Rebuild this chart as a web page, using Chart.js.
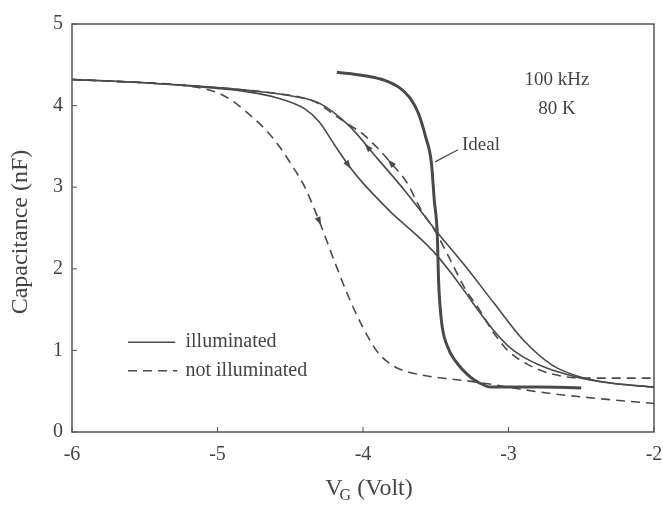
<!DOCTYPE html>
<html>
<head>
<meta charset="utf-8">
<script src="https://cdn.jsdelivr.net/npm/chart.js@4.4.0/dist/chart.umd.min.js"></script>
<style>
  html, body { margin: 0; padding: 0; background: #fff; }
</style>
</head>
<body>
<canvas id="cvChart" width="663" height="509"></canvas>
<script>
// values
const xTickLabels = ['-6', '-5', '-4', '-3', '-2'];
const yTickLabels = ['0', '1', '2', '3', '4', '5'];

const illumUpX = [-6, -5.5, -5, -4.7, -4.5, -4.3, -4.1, -3.9, -3.7, -3.5, -3.3, -3.1, -2.9, -2.7, -2.5, -2.3, -2.0];
const illumUpY = [4.32, 4.28, 4.22, 4.17, 4.12, 4.03, 3.76, 3.35, 2.93, 2.47, 2.04, 1.58, 1.13, 0.82, 0.67, 0.60, 0.55];

const illumDownX = [-6, -5.5, -5, -4.8, -4.6, -4.4, -4.3, -4.2, -4.1, -4.0, -3.9, -3.8, -3.7, -3.6, -3.5, -3.4, -3.3, -3.2, -3.1, -3.0, -2.9, -2.8, -2.7, -2.5, -2.3, -2.0];
const illumDownY = [4.32, 4.28, 4.21, 4.17, 4.10, 3.96, 3.80, 3.53, 3.27, 3.05, 2.86, 2.68, 2.52, 2.36, 2.18, 1.96, 1.72, 1.47, 1.24, 1.05, 0.92, 0.83, 0.76, 0.66, 0.60, 0.55];

const darkDownX = [-6, -5.5, -5.2, -5.0, -4.9, -4.8, -4.7, -4.6, -4.5, -4.4, -4.3, -4.2, -4.1, -4.0, -3.9, -3.8, -3.7, -3.6, -3.5, -3.3, -3.1, -2.9, -2.7, -2.5, -2.2, -2.0];
const darkDownY = [4.32, 4.28, 4.24, 4.16, 4.06, 3.92, 3.76, 3.56, 3.30, 3.00, 2.58, 2.11, 1.66, 1.28, 0.98, 0.82, 0.74, 0.70, 0.67, 0.63, 0.58, 0.52, 0.47, 0.43, 0.38, 0.35];

const darkUpX = [-6, -5.5, -5, -4.6, -4.4, -4.3, -4.2, -4.1, -4.0, -3.9, -3.8, -3.7, -3.6, -3.5, -3.4, -3.3, -3.2, -3.1, -3.0, -2.9, -2.8, -2.7, -2.5, -2.2, -2.0];
const darkUpY = [4.32, 4.28, 4.22, 4.15, 4.09, 4.02, 3.89, 3.77, 3.65, 3.48, 3.28, 3.06, 2.72, 2.45, 2.11, 1.76, 1.50, 1.21, 0.99, 0.86, 0.77, 0.71, 0.66, 0.66, 0.66];

const idealX = [-4.18, -4.0, -3.85, -3.75, -3.68, -3.62, -3.57, -3.53, -3.51, -3.49, -3.48, -3.46, -3.42, -3.36, -3.28, -3.2, -3.12, -2.8, -2.5];
const idealY = [4.41, 4.37, 4.31, 4.22, 4.10, 3.91, 3.62, 3.30, 2.84, 2.44, 1.83, 1.35, 1.05, 0.86, 0.70, 0.60, 0.55, 0.55, 0.54];

const ink = '#4a4a4a';
const serif = '"Liberation Serif", "DejaVu Serif", serif';

function pts(xs, ys) {
  return xs.map((x, i) => ({ x: x, y: ys[i] }));
}

function curve(label, xs, ys, dashed, width) {
  return {
    label: label,
    data: pts(xs, ys),
    borderColor: ink,
    borderWidth: width || 1.6,
    borderDash: dashed ? [9, 6] : [],
    pointRadius: 0,
    fill: false,
    showLine: true,
    cubicInterpolationMode: 'monotone'
  };
}

// arrow heads: dataset index, x where it sits, reverse = points toward smaller x
const arrowMarks = [
  { ds: 2, at: -4.30, reverse: false },
  { ds: 1, at: -4.10, reverse: false },
  { ds: 0, at: -3.97, reverse: true },
  { ds: 3, at: -3.81, reverse: true }
];

function arrowHead(ctx, px, py, ang) {
  const len = 9, half = 3;
  ctx.save();
  ctx.translate(px, py);
  ctx.rotate(ang);
  ctx.beginPath();
  ctx.moveTo(len / 2, 0);
  ctx.lineTo(-len / 2, -half);
  ctx.lineTo(-len / 2, half);
  ctx.closePath();
  ctx.fillStyle = ink;
  ctx.fill();
  ctx.restore();
}

const decor = {
  id: 'decor',
  afterDraw(chart) {
    const ctx = chart.ctx;
    const a = chart.chartArea;
    const xs = chart.scales.x, ys = chart.scales.y;
    ctx.save();

    // frame
    ctx.strokeStyle = '#555';
    ctx.lineWidth = 1.5;
    ctx.strokeRect(a.left, a.top, a.right - a.left, a.bottom - a.top);

    // inner ticks
    ctx.lineWidth = 1;
    ctx.beginPath();
    xs.ticks.forEach(t => {
      const p = xs.getPixelForValue(t.value);
      ctx.moveTo(p, a.bottom);
      ctx.lineTo(p, a.bottom - 5);
    });
    ys.ticks.forEach(t => {
      const p = ys.getPixelForValue(t.value);
      ctx.moveTo(a.left, p);
      ctx.lineTo(a.left + 5, p);
    });
    ctx.stroke();

    // arrows along the sweeps
    arrowMarks.forEach(m => {
      const d = chart.data.datasets[m.ds].data;
      for (let i = 0; i < d.length - 1; i++) {
        if (m.at >= d[i].x && m.at <= d[i + 1].x) {
          const f = (m.at - d[i].x) / (d[i + 1].x - d[i].x);
          const x0 = xs.getPixelForValue(d[i].x), y0 = ys.getPixelForValue(d[i].y);
          const x1 = xs.getPixelForValue(d[i + 1].x), y1 = ys.getPixelForValue(d[i + 1].y);
          let ang = Math.atan2(y1 - y0, x1 - x0);
          if (m.reverse) ang += Math.PI;
          arrowHead(ctx, x0 + (x1 - x0) * f, y0 + (y1 - y0) * f, ang);
          break;
        }
      }
    });

    // legend
    ctx.strokeStyle = ink;
    ctx.lineWidth = 1.6;
    const lx0 = xs.getPixelForValue(-5.615), lx1 = xs.getPixelForValue(-5.29);
    const ly1 = ys.getPixelForValue(1.10), ly2 = ys.getPixelForValue(0.75);
    ctx.beginPath();
    ctx.moveTo(lx0, ly1); ctx.lineTo(lx1, ly1);
    ctx.stroke();
    ctx.setLineDash([9, 6]);
    ctx.beginPath();
    ctx.moveTo(lx0, ly2); ctx.lineTo(lx1 + 2, ly2);
    ctx.stroke();
    ctx.setLineDash([]);

    ctx.fillStyle = '#444';
    ctx.font = '20px ' + serif;
    ctx.textBaseline = 'middle';
    ctx.textAlign = 'left';
    const tx = xs.getPixelForValue(-5.22);
    ctx.fillText('illuminated', tx, ly1);
    ctx.fillText('not illuminated', tx, ly2);

    // conditions
    ctx.textAlign = 'center';
    ctx.font = '19px ' + serif;
    const cx = xs.getPixelForValue(-2.667);
    ctx.fillText('100 kHz', cx, ys.getPixelForValue(4.31));
    ctx.fillText('80 K', cx, ys.getPixelForValue(3.96));

    // Ideal label with leader
    ctx.textAlign = 'left';
    ctx.fillText('Ideal', xs.getPixelForValue(-3.32), ys.getPixelForValue(3.52));
    ctx.lineWidth = 1.2;
    ctx.beginPath();
    ctx.moveTo(xs.getPixelForValue(-3.505), ys.getPixelForValue(3.31));
    ctx.lineTo(xs.getPixelForValue(-3.347), ys.getPixelForValue(3.46));
    ctx.stroke();

    // axis titles
    ctx.font = '24px ' + serif;
    ctx.textAlign = 'center';
    ctx.save();
    ctx.translate(21, (a.top + a.bottom) / 2 + 4);
    ctx.rotate(-Math.PI / 2);
    ctx.fillText('Capacitance (nF)', 0, 0);
    ctx.restore();

    ctx.textAlign = 'left';
    ctx.textBaseline = 'alphabetic';
    const big = '24px ' + serif, small = '16px ' + serif;
    ctx.font = big;
    const wV = ctx.measureText('V').width;
    const wRest = ctx.measureText(' (Volt)').width;
    ctx.font = small;
    const wG = ctx.measureText('G').width;
    const total = wV + wG - 3 + wRest;
    let x = (a.left + a.right) / 2 - total / 2 + 6;
    const base = 495;
    ctx.font = big;
    ctx.fillText('V', x, base);
    x += wV - 3;
    ctx.font = small;
    ctx.fillText('G', x, base + 5);
    x += wG;
    ctx.font = big;
    ctx.fillText(' (Volt)', x, base);

    ctx.restore();
  }
};

new Chart(document.getElementById('cvChart').getContext('2d'), {
  type: 'scatter',
  data: {
    datasets: [
      curve('illuminated (up)', illumUpX, illumUpY, false),
      curve('illuminated (down)', illumDownX, illumDownY, false),
      curve('not illuminated (down)', darkDownX, darkDownY, true),
      curve('not illuminated (up)', darkUpX, darkUpY, true),
      curve('Ideal', idealX, idealY, false, 3)
    ]
  },
  options: {
    responsive: false,
    animation: false,
    layout: { padding: { top: 24, right: 9, left: 0, bottom: 0 } },
    plugins: {
      legend: { display: false },
      tooltip: { enabled: false }
    },
    scales: {
      x: {
        type: 'linear',
        min: -6,
        max: -2,
        afterFit: s => { s.height = 77; s.paddingLeft = 0; s.paddingRight = 0; },
        grid: { display: false, drawTicks: false },
        border: { display: false },
        ticks: {
          stepSize: 1,
          padding: 11,
          color: '#444',
          font: { family: serif, size: 20 },
          maxRotation: 0,
          callback: (v) => xTickLabels[Math.round(v + 6)]
        }
      },
      y: {
        type: 'linear',
        min: 0,
        max: 5,
        afterFit: s => { s.width = 72; s.paddingTop = 0; s.paddingBottom = 0; },
        grid: { display: false, drawTicks: false },
        border: { display: false },
        ticks: {
          stepSize: 1,
          padding: 9,
          color: '#444',
          font: { family: serif, size: 20 },
          callback: (v) => yTickLabels[Math.round(v)]
        }
      }
    }
  },
  plugins: [decor]
});
</script>
</body>
</html>
